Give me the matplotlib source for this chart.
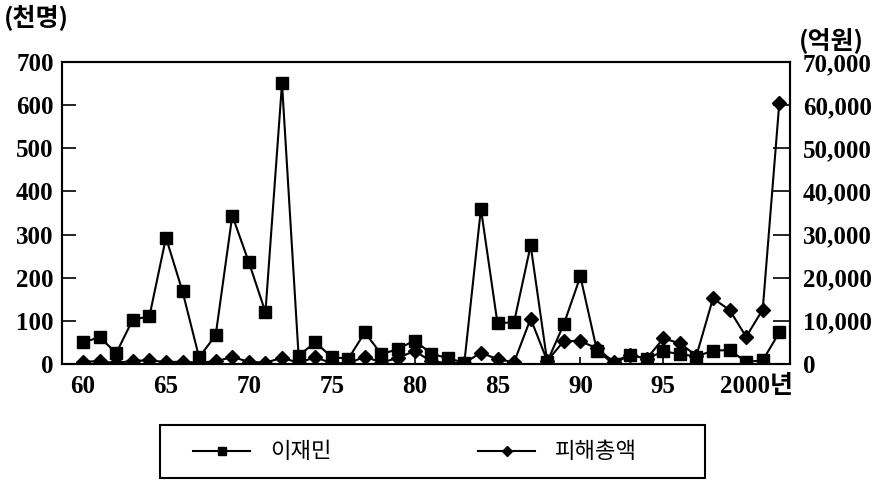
import matplotlib
matplotlib.use("Agg")
import matplotlib.pyplot as plt
import matplotlib.transforms as mtransforms
from matplotlib.lines import Line2D
from matplotlib.patches import Rectangle
from matplotlib.ticker import FuncFormatter

# fonts: serif digits, Korean falls back to Noto Sans CJK KR
num_font = ["Liberation Serif", "Noto Sans CJK KR"]
kor_font = ["Noto Sans CJK KR", "DejaVu Sans"]

# 1. Data (1960 - 2002)
years = list(range(1960, 2003))

# 이재민 (천명)
victims = [50, 62, 25, 103, 110, 293, 168, 15, 67, 344,
           236, 120, 651, 19, 50, 16, 12, 73, 22, 35,
           54, 24, 13, 3, 360, 94, 97, 275, 5, 92,
           203, 31, 0, 21, 12, 29, 23, 17, 31, 32,
           5, 8, 73]

# 피해총액 (억원)
damage = [550, 600, 200, 750, 800, 450, 500, 300, 600, 1600,
          500, 300, 1400, 300, 1500, 200, 100, 1700, 300, 1400,
          3000, 600, 200, 200, 2600, 1100, 400, 10500, 700, 5300,
          5300, 3600, 500, 2100, 1200, 5900, 4800, 1900, 15200, 12500,
          6300, 12600, 60500]

series_names = ["이재민", "피해총액"]
xtick_years = [1960, 1965, 1970, 1975, 1980, 1985, 1990, 1995, 2000]
xtick_labels = ["60", "65", "70", "75", "80", "85", "90", "95", "2000년"]
left_ticks = [0, 100, 200, 300, 400, 500, 600, 700]
right_ticks = [0, 10000, 20000, 30000, 40000, 50000, 60000, 70000]

W, H = 880, 482


def fx(px):
    return px / W


def fy(py):
    return 1 - py / H


# 2. Figure and axes
fig = plt.figure(figsize=(8.8, 4.82), dpi=100)
ax = fig.add_axes([0.0705, 0.245, 0.8275, 0.626])
ax2 = ax.twinx()

ax.plot(years, victims, color="black", lw=1.5, marker="s", ms=9,
        mfc="black", mec="black", zorder=3)
ax2.plot(years, damage, color="black", lw=1.5, marker="D", ms=7,
         mfc="black", mec="black", zorder=3)

ax.set_xlim(1958.73, 2002.66)
ax.set_ylim(0, 700)
ax2.set_ylim(0, 70000)

for a in (ax, ax2):
    for s in a.spines.values():
        s.set_linewidth(1.5)

ax.set_xticks(xtick_years)
ax.set_xticklabels(xtick_labels, fontfamily=num_font, fontsize=18, fontweight="bold")
ax.tick_params(axis="x", direction="in", length=5, width=1.2, pad=8)

ax.set_yticks(left_ticks)
ax.set_yticklabels([str(v) for v in left_ticks], fontfamily=num_font,
                   fontsize=18, fontweight="bold")
ax.tick_params(axis="y", direction="in", length=10, width=1.2, pad=6)

ax2.set_yticks(right_ticks)
ax2.yaxis.set_major_formatter(FuncFormatter(lambda v, p: f"{int(v):,}"))
for lab in ax2.get_yticklabels():
    lab.set_fontfamily(num_font)
    lab.set_fontsize(18)
    lab.set_fontweight("bold")
ax2.tick_params(axis="y", direction="in", length=12, width=1.2, pad=9)

# push the "2000년" label right so "2000" sits on its tick
last = ax.get_xticklabels()[-1]
offset = mtransforms.ScaledTranslation(0.1, 0, fig.dpi_scale_trans)
last.set_transform(last.get_transform() + offset)

# 3. Unit labels
fig.text(fx(4), fy(18), "(천명)", fontfamily=kor_font, fontsize=18,
         fontweight="bold", ha="left", va="center")
fig.text(fx(799), fy(40), "(억원)", fontfamily=kor_font, fontsize=18,
         fontweight="bold", ha="left", va="center")

# 4. Legend box drawn by hand to match the spacing of the original
fig.add_artist(Rectangle((fx(160), fy(478)), fx(705) - fx(160), fy(425) - fy(478),
                         transform=fig.transFigure, fill=False,
                         edgecolor="black", lw=1.5))
legend_items = [
    (193, 250, "s", 6, 270),
    (478, 535, "D", 5, 555),
]
for (x0, x1, mk, ms, tx), name in zip(legend_items, series_names):
    fig.add_artist(Line2D([fx(x0), fx(x1)], [fy(451), fy(451)],
                          transform=fig.transFigure, color="black", lw=1.5))
    fig.add_artist(Line2D([fx((x0 + x1) / 2)], [fy(451)], transform=fig.transFigure,
                          marker=mk, ms=ms, color="black"))
    fig.text(fx(tx), fy(451), name, fontfamily=kor_font, fontsize=16,
             ha="left", va="center")

fig.savefig("out.png", dpi=100)
